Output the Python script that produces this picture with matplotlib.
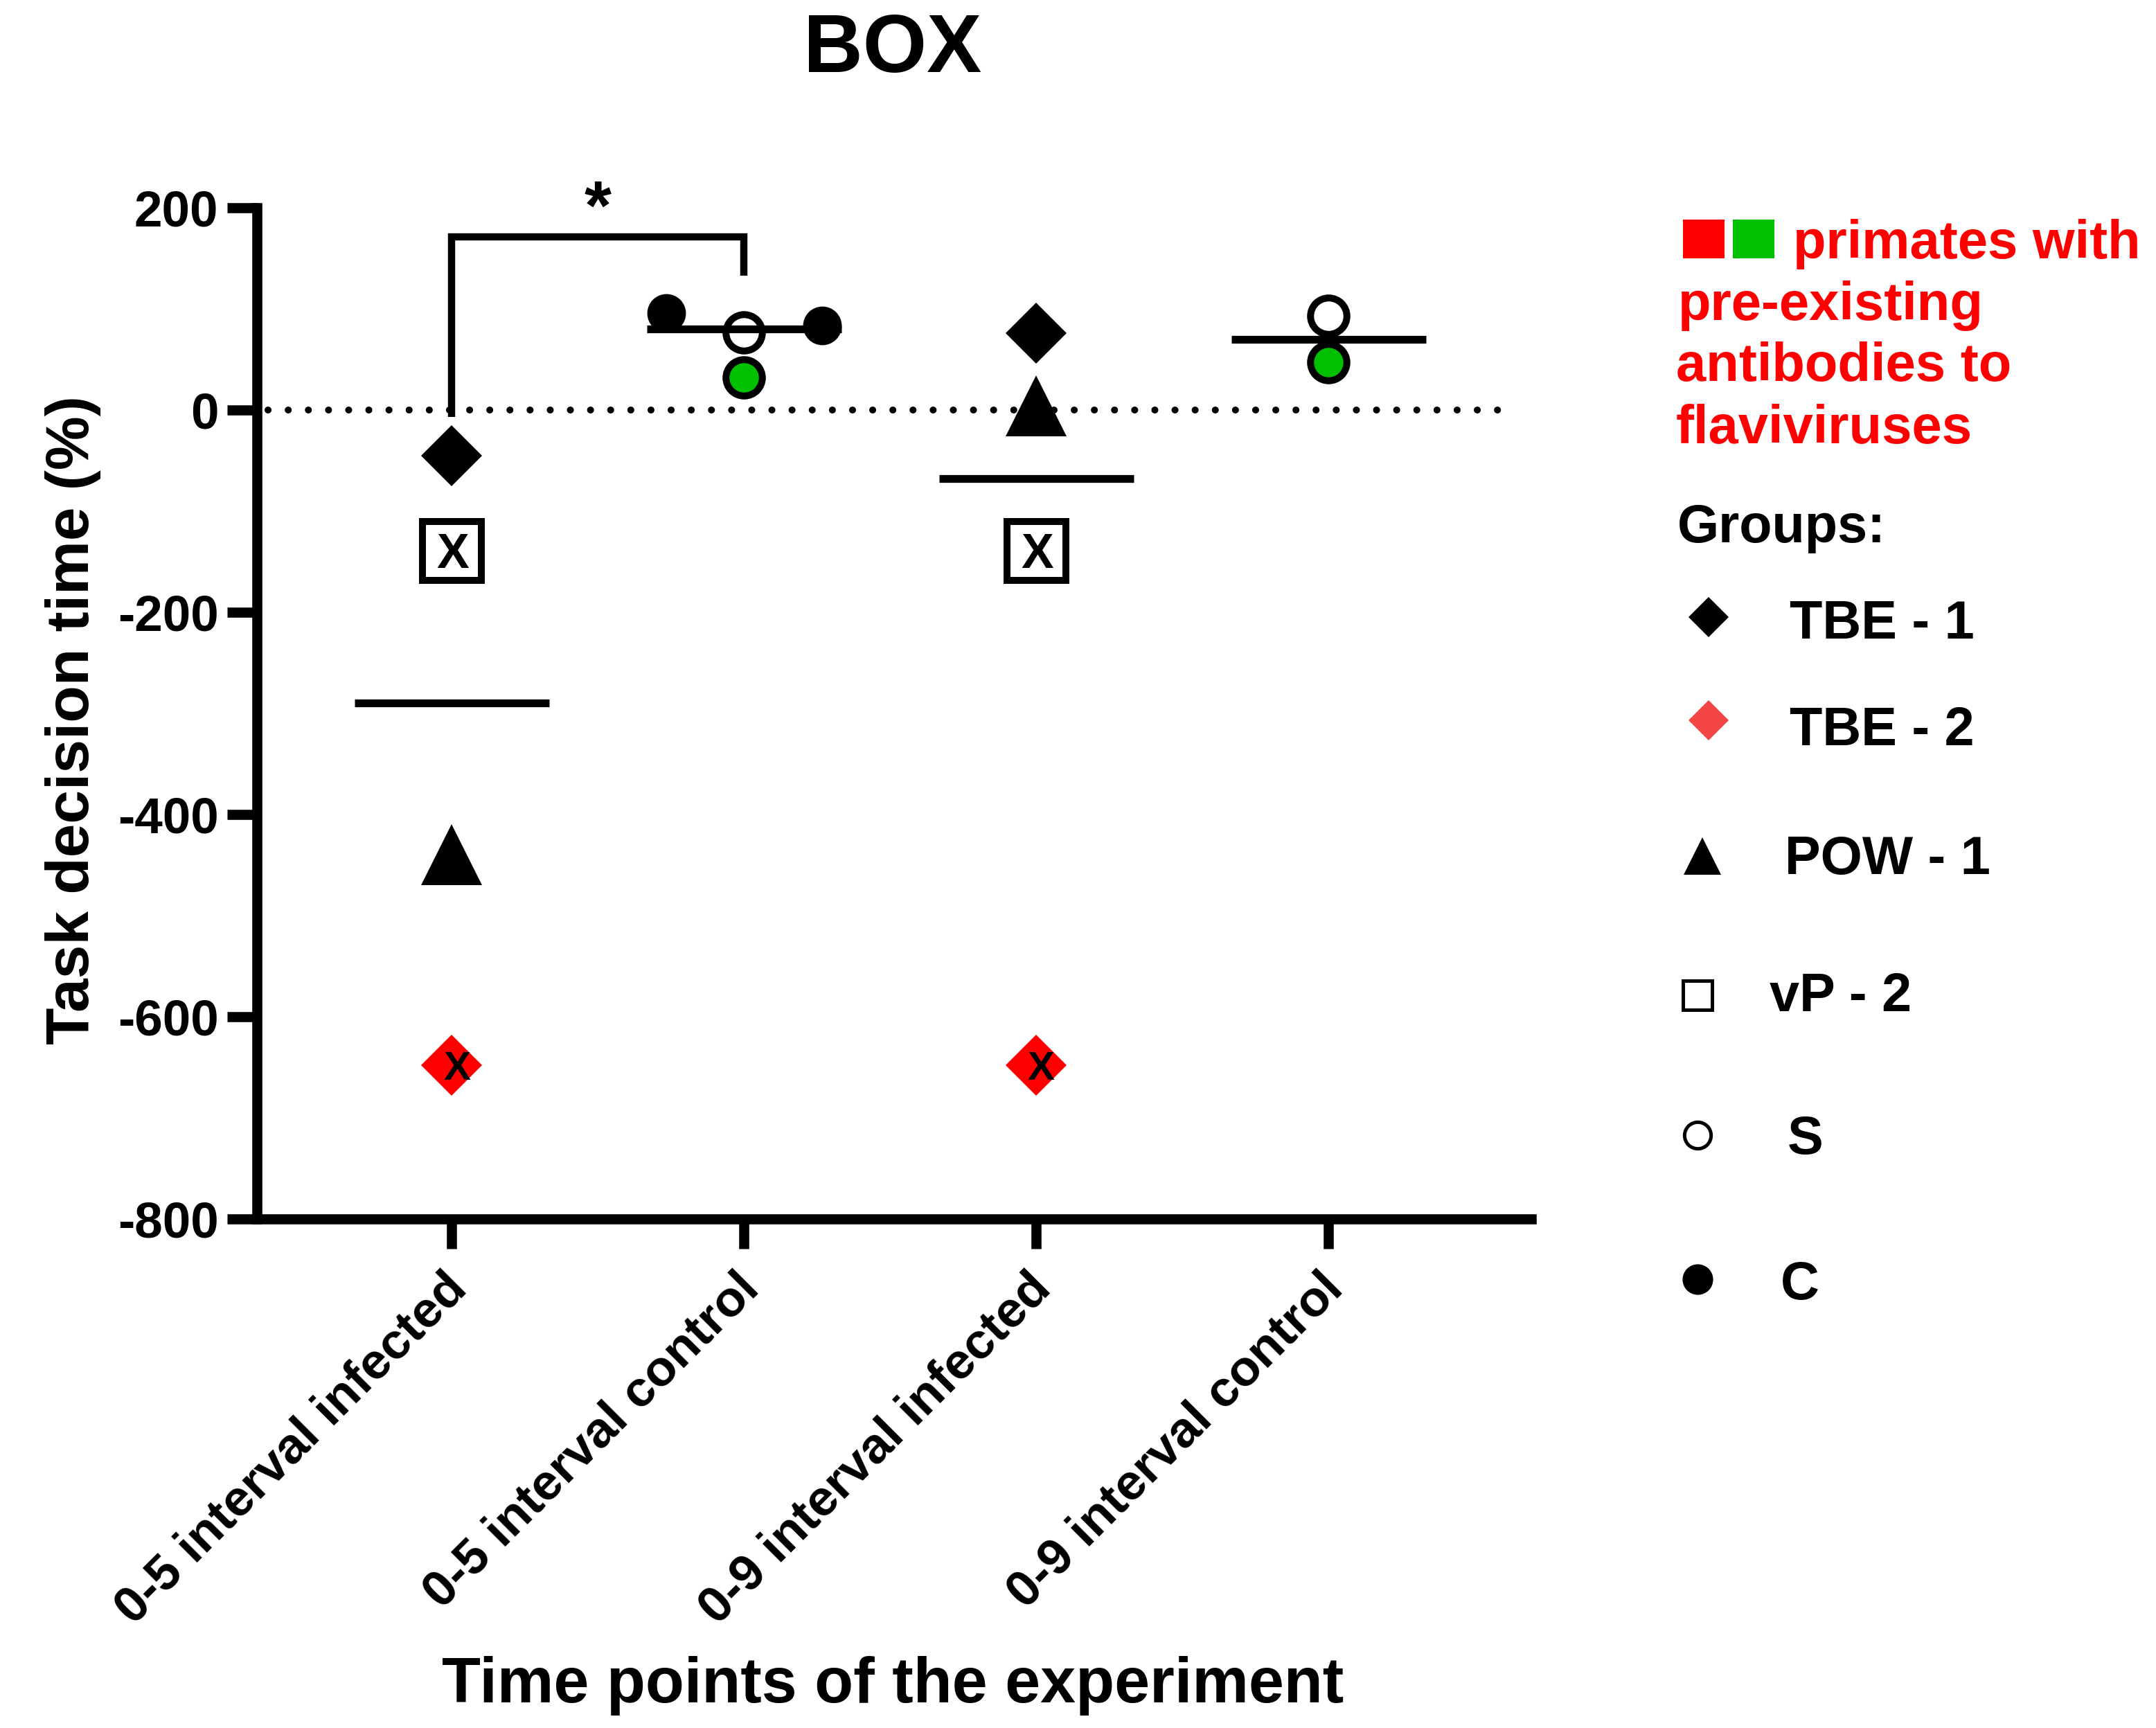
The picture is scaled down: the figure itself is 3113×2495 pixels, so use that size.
import numpy as np
import matplotlib
matplotlib.use("Agg")
import matplotlib.pyplot as plt
from matplotlib.lines import Line2D
from matplotlib.patches import Rectangle
import matplotlib.transforms as mtrans

plt.rcParams['font.family'] = ['Liberation Sans', 'DejaVu Sans']
plt.rcParams['font.weight'] = 'bold'

# ---------------- data ----------------
categories = ["0-5 interval infected", "0-5 interval control",
              "0-9 interval infected", "0-9 interval control"]
yticks = [-800, -600, -400, -200, 0, 200]

# group positions (column index) and values
tbe1_x = [0, 2]
tbe1_y = [-45, 76]
tbe2_x = [0, 2]
tbe2_y = [-648, -648]
pow1_x = [0, 2]
pow1_y = [-440, 4]
vp2_x = [0, 2]
vp2_y = [-139, -139]
s_x = [1, 3]
s_y = [77, 93]
c_x = [0.735, 1.268]
c_y = [96, 83.5]
green_x = [1, 3]
green_y = [32, 47]

# values belonging to each column (for the median lines)
col_values = [
    [-45, -648, -440, -139],
    [96, 83.5, 77, 32],
    [76, -648, 4, -139],
    [93, 47],
]
medians = [float(np.median(v)) for v in col_values]

# significance bracket
sig_pair = (0, 1)
sig_y = [-7, 171, 171, 133]
sig_text = "*"

W, H = 3113, 2495
fig = plt.figure(figsize=(W / 300, H / 300), dpi=300)

def fx(px):
    return px / W

def fy(py):
    return 1 - py / H

ax_left, ax_right, ax_top, ax_bottom = 370.5, 2211, 300, 1760
ax = fig.add_axes([fx(ax_left), fy(ax_bottom), (ax_right - ax_left) / W, (ax_bottom - ax_top) / H])
ax.set_xlim(-0.668, 3.694)
ax.set_ylim(-800, 200)

for s in ['top', 'right']:
    ax.spines[s].set_visible(False)
for s in ['left', 'bottom']:
    ax.spines[s].set_linewidth(3.5)

ax.set_yticks(yticks)
ax.set_yticklabels([str(v) for v in yticks])
ax.set_xticks(range(len(categories)))
ax.set_xticklabels(categories, rotation=45, ha='right', va='baseline', rotation_mode='anchor')
ax.tick_params(axis='both', direction='out', length=10.3, width=3.5, labelsize=17.5)
ax.tick_params(axis='y', pad=2.9)
ax.tick_params(axis='x', pad=14.6)
off = mtrans.ScaledTranslation(24 / 300, 0, fig.dpi_scale_trans)
for lab in ax.get_xticklabels():
    lab.set_fontweight('bold')
    lab.set_transform(lab.get_transform() + off)
for lab in ax.get_yticklabels():
    lab.set_fontweight('bold')

# dotted zero line
ax.plot([-0.63, 3.63], [0, 0], color='black', lw=2.4,
        linestyle=(0, (0.01, 2.9)), dash_capstyle='round', zorder=1)

# points
ax.plot(tbe1_x, tbe1_y, ls='none', marker='D', ms=14.9, mfc='black', mec='black', mew=0, zorder=4)
ax.plot(tbe2_x, tbe2_y, ls='none', marker='D', ms=14.9, mfc='#FF0000', mec='#FF0000', mew=0, zorder=4)
ax.plot(pow1_x, pow1_y, ls='none', marker='^', ms=21, mfc='black', mec='black', mew=0, zorder=4)
ax.plot(vp2_x, vp2_y, ls='none', marker='s', ms=20.4, mfc='white', mec='black', mew=2.4, zorder=4)
ax.plot(s_x, s_y, ls='none', marker='o', ms=12.6, mfc='white', mec='black', mew=2.4, zorder=4)
ax.plot(green_x, green_y, ls='none', marker='o', ms=12.6, mfc='#00C000', mec='black', mew=2.4, zorder=4)
ax.plot(c_x, c_y, ls='none', marker='o', ms=13.4, mfc='black', mec='black', mew=0, zorder=4)

# X marks on excluded points
for x, y in zip(vp2_x, vp2_y):
    ax.annotate("X", (x, y), xytext=(0.4, -6), textcoords='offset points',
                ha='center', va='baseline', fontsize=16.8, fontweight='bold', zorder=6)
for x, y in zip(tbe2_x, tbe2_y):
    ax.annotate("X", (x, y), xytext=(1.7, -5), textcoords='offset points',
                ha='center', va='baseline', fontsize=14, fontweight='bold', zorder=6)

# median lines
for i, m in enumerate(medians):
    ax.plot([i - 0.333, i + 0.333], [m, m], color='black', lw=2.7,
            solid_capstyle='butt', zorder=5)

# significance bracket
a, b = sig_pair
ax.plot([a, a, b, b], sig_y, color='black', lw=2.5, solid_joinstyle='miter',
        solid_capstyle='butt', clip_on=False, zorder=5)
ax.text((a + b) / 2, 179, sig_text, ha='center', va='baseline', fontsize=24,
        fontweight='bold', clip_on=False)

# titles / labels
fig.text(fx(1289), fy(104), "BOX", ha='center', va='baseline', fontsize=28.5, fontweight='bold')
fig.text(fx(1289), fy(2458), "Time points of the experiment", ha='center', va='baseline',
         fontsize=22, fontweight='bold')
fig.text(fx(128), fy(1040), "Task decision time (%)", ha='center', va='baseline',
         rotation=90, rotation_mode='anchor', fontsize=21, fontweight='bold')

# ---------------- legend (right side) ----------------
red = '#FF0000'
green = '#00C000'
fig.add_artist(Rectangle((fx(2430), fy(373)), 60 / W, 56 / H, transform=fig.transFigure,
                         facecolor=red, edgecolor='none'))
fig.add_artist(Rectangle((fx(2502), fy(373)), 60 / W, 56 / H, transform=fig.transFigure,
                         facecolor=green, edgecolor='none'))
note_lines = [("primates with", 2589, 373), ("pre-existing", 2423, 462),
              ("antibodies to", 2420, 550), ("flaviviruses", 2420, 640)]
for t, x, y in note_lines:
    fig.text(fx(x), fy(y), t, color=red, fontsize=18.7, fontweight='bold', ha='left', va='baseline')

fig.text(fx(2422), fy(783), "Groups:", fontsize=18.6, fontweight='bold', ha='left', va='baseline')

legend_labels = ["TBE - 1", "TBE - 2", "POW - 1", "vP - 2", "S", "C"]
legend_text_pos = [(2584, 922), (2584, 1076), (2577, 1262), (2555, 1460), (2581, 1666), (2571, 1876)]
legend_marker_pos = [(2467, 891), (2467, 1040), (2458, 1236), (2451, 1437), (2451, 1639), (2451, 1847)]
legend_marker_style = [
    dict(marker='D', ms=9.7, mfc='black', mec='black', mew=0),
    dict(marker='D', ms=9.7, mfc='#F44545', mec='#F44545', mew=0),
    dict(marker='^', ms=13, mfc='black', mec='black', mew=0),
    dict(marker='s', ms=10, mfc='white', mec='black', mew=1.2),
    dict(marker='o', ms=9.2, mfc='white', mec='black', mew=1.2),
    dict(marker='o', ms=10.6, mfc='black', mec='black', mew=0),
]
for lab, (tx, ty), (mx, my), st in zip(legend_labels, legend_text_pos, legend_marker_pos, legend_marker_style):
    fig.add_artist(Line2D([fx(mx)], [fy(my)], transform=fig.transFigure, ls='none', **st))
    fig.text(fx(tx), fy(ty), lab, fontsize=18.6, fontweight='bold', ha='left', va='baseline')

fig.savefig("out.png", dpi=300)
